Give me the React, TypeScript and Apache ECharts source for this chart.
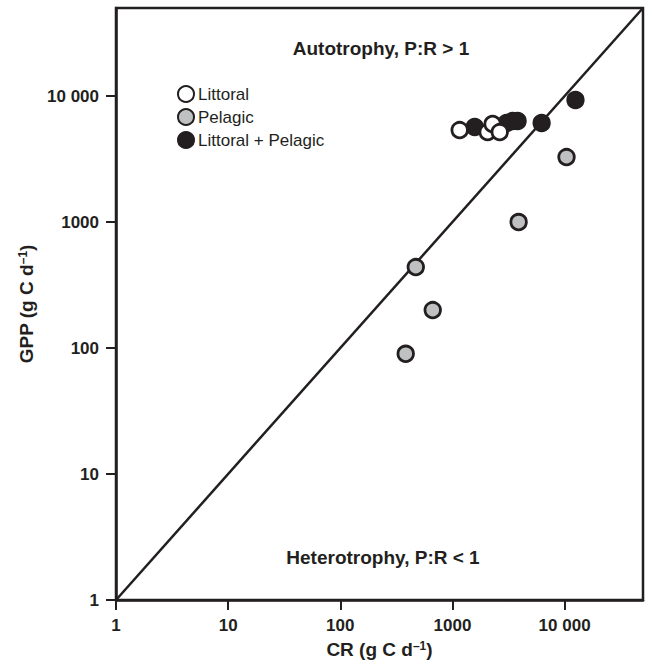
import React, { useEffect, useRef } from "react";
import * as echarts from "echarts";

const tickValues = [1, 10, 100, 1000, 10000];
const axisMin = 1;
const axisMax = 50000;

const littoralCR = [1160, 2060, 2280, 2640];
const littoralGPP = [5370, 5180, 6000, 5180];

const pelagicCR = [383, 471, 667, 3890, 10400];
const pelagicGPP = [90, 439, 200, 1000, 3280];

const bothCR = [1580, 3040, 3440, 3810, 6240, 12500];
const bothGPP = [5680, 6110, 6340, 6340, 6110, 9300];

const oneToOne = [1, 50000];

const seriesNames = ["Littoral", "Pelagic", "Littoral + Pelagic"];

const INK = "#231f20";
const GRAY = "#bec0c2";
const FONT = "Arial, 'Liberation Sans', Helvetica, sans-serif";

const pairs = (xs: number[], ys: number[]) => xs.map((x, i) => [x, ys[i]]);

const fmt = (v: number) => (v === 10000 ? "10 000" : String(v));

export default function App() {
  const ref = useRef<HTMLDivElement>(null);

  useEffect(() => {
    document.body.style.margin = "0";
    if (!ref.current) return;
    const chart = echarts.init(ref.current, undefined, { renderer: "svg" });

    const axisCommon = (name: string, nameGap: number, margin: number) => ({
      type: "log" as const,
      logBase: 10,
      min: axisMin,
      max: axisMax,
      name: `{n|${name}}{s|–1}{n|)}`,
      nameLocation: "middle" as const,
      nameGap,
      nameTextStyle: {
        rich: {
          n: { fontSize: 19, fontWeight: "bold", fontFamily: FONT, color: INK },
          s: { fontSize: 12, fontWeight: "bold", fontFamily: FONT, color: INK, verticalAlign: "top" },
        },
      },
      axisLine: { show: true, lineStyle: { color: INK, width: 2.5 } },
      axisTick: {
        show: true,
        inside: false,
        length: 10,
        lineStyle: { color: INK, width: 2 },
        customValues: tickValues,
      },
      minorTick: { show: false },
      splitLine: { show: false },
      axisLabel: {
        customValues: tickValues,
        margin,
        fontSize: 17,
        fontWeight: "bold",
        fontFamily: FONT,
        color: INK,
        formatter: (v: number) => fmt(v),
      },
    });

    const scatterStyle = (fill: string) => ({
      color: fill,
      borderColor: INK,
      borderWidth: 2.8,
      opacity: 1,
    });

    chart.setOption({
      animation: false,
      backgroundColor: "#ffffff",
      grid: {
        left: 116,
        right: 9,
        top: 8,
        bottom: 66,
        show: true,
        borderColor: INK,
        borderWidth: 2.5,
        backgroundColor: "transparent",
      },
      xAxis: axisCommon("CR (g C d", 40, 17),
      yAxis: { ...axisCommon("GPP (g C d", 80, 17), nameRotate: 90 },
      legend: {
        orient: "vertical",
        left: 177,
        top: 85,
        padding: 0,
        itemWidth: 16,
        itemHeight: 16,
        itemGap: 5,
        icon: "circle",
        data: seriesNames,
        textStyle: { fontSize: 17, fontFamily: FONT, color: INK, padding: [0, 0, 0, -1] },
      },
      graphic: [
        {
          type: "text",
          x: 381,
          y: 48,
          style: {
            text: "Autotrophy, P:R > 1",
            fontSize: 19,
            fontWeight: "bold",
            fontFamily: FONT,
            fill: INK,
            textAlign: "center",
            textVerticalAlign: "middle",
          },
        },
        {
          type: "text",
          x: 383,
          y: 557,
          style: {
            text: "Heterotrophy, P:R < 1",
            fontSize: 19,
            fontWeight: "bold",
            fontFamily: FONT,
            fill: INK,
            textAlign: "center",
            textVerticalAlign: "middle",
          },
        },
      ],
      series: [
        {
          name: "1:1",
          type: "line",
          data: pairs(oneToOne, oneToOne),
          showSymbol: false,
          symbol: "none",
          lineStyle: { color: INK, width: 2.5 },
          silent: true,
          z: 1,
        },
        {
          name: seriesNames[2],
          type: "scatter",
          data: pairs(bothCR, bothGPP),
          symbol: "circle",
          symbolSize: 15.5,
          itemStyle: scatterStyle(INK),
          z: 2,
        },
        {
          name: seriesNames[1],
          type: "scatter",
          data: pairs(pelagicCR, pelagicGPP),
          symbol: "circle",
          symbolSize: 15.5,
          itemStyle: scatterStyle(GRAY),
          z: 3,
        },
        {
          name: seriesNames[0],
          type: "scatter",
          data: pairs(littoralCR, littoralGPP),
          symbol: "circle",
          symbolSize: 15.5,
          itemStyle: scatterStyle("#ffffff"),
          z: 4,
        },
      ],
    });

    return () => chart.dispose();
  }, []);

  return <div ref={ref} style={{ width: 652, height: 666 }} />;
}
